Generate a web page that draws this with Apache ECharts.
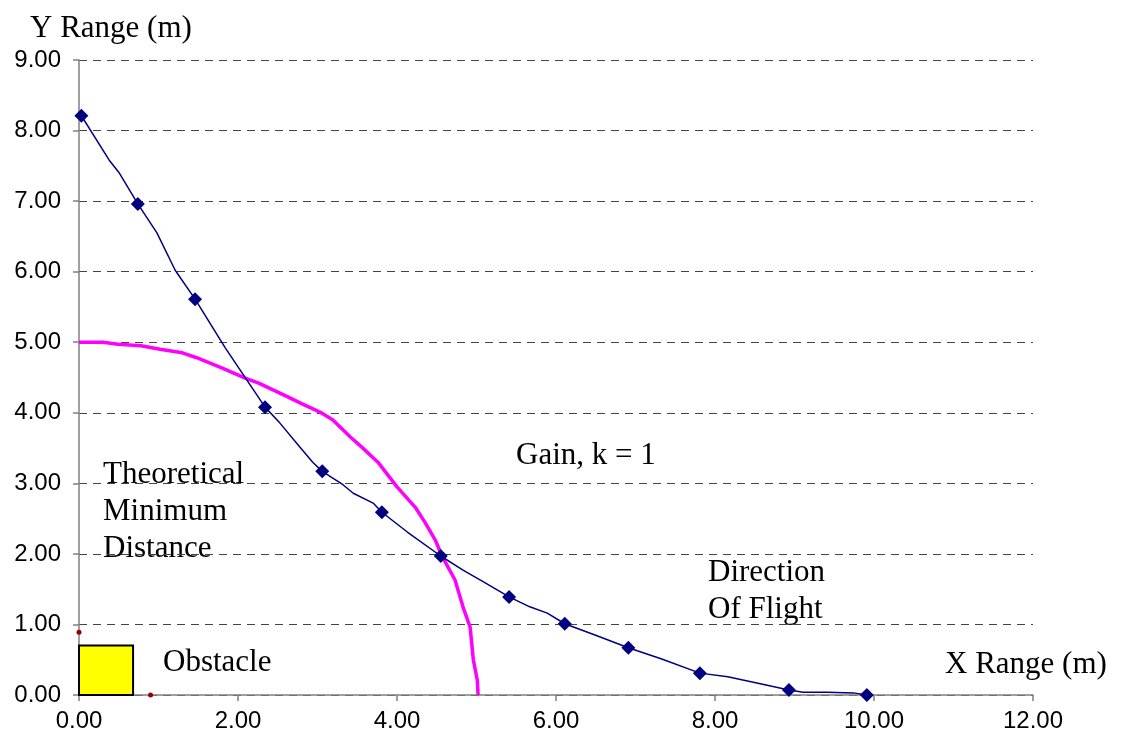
<!DOCTYPE html>
<html>
<head>
<meta charset="utf-8">
<script src="https://cdn.jsdelivr.net/npm/echarts@6/dist/echarts.min.js"></script>
<style>
html,body{margin:0;padding:0;background:#fff;}
#chart{width:1124px;height:746px;}
</style>
</head>
<body>
<div id="chart"></div>
<script>
// flight path (blue)
var pathX = [0.03,0.38,0.50,0.74,0.98,1.21,1.46,1.84,2.34,2.53,2.78,2.94,3.06,3.32,3.45,3.70,3.81,4.13,4.55,4.83,5.11,5.41,5.67,5.89,6.11,6.49,6.91,7.33,7.81,8.16,8.57,8.93,9.11,9.41,9.74,9.91];
var pathY = [8.21,7.58,7.41,6.96,6.55,6.02,5.61,4.92,4.08,3.85,3.51,3.30,3.17,2.98,2.86,2.72,2.59,2.31,1.97,1.77,1.59,1.39,1.25,1.16,1.01,0.85,0.67,0.51,0.31,0.26,0.16,0.07,0.04,0.04,0.03,0.00];
// diamond markers on the path
var markX = [0.03,0.74,1.46,2.34,3.06,3.81,4.55,5.41,6.11,6.91,7.81,8.93,9.91];
var markY = [8.21,6.96,5.61,4.08,3.17,2.59,1.97,1.39,1.01,0.67,0.31,0.07,0.00];
// theoretical minimum distance (pink)
var minX = [0,0.30,0.49,0.78,1.02,1.30,1.48,1.81,2.09,2.26,2.60,2.82,3.03,3.19,3.41,3.56,3.76,4.00,4.23,4.35,4.48,4.57,4.73,4.83,4.92,4.96,5.01,5.02];
var minY = [5.00,5.00,4.97,4.95,4.90,4.85,4.78,4.63,4.49,4.42,4.24,4.12,4.01,3.90,3.66,3.51,3.30,2.95,2.66,2.45,2.20,1.96,1.63,1.25,0.96,0.50,0.21,0.00];
// obstacle box [x0, y0, x1, y1] and its corner dots
var obstacle = [[0, 0, 0.68, 0.70]];
var dotX = [0, 0.9];
var dotY = [0.89, 0];

function pairs(xs, ys){
    var out = [];
    for(var i=0;i<xs.length;i++){ out.push([xs[i], ys[i]]); }
    return out;
}

var chart = echarts.init(document.getElementById('chart'));
var serif = '"Liberation Serif", "DejaVu Serif", serif';
var sans = '"Liberation Sans", Arial, sans-serif';

chart.setOption({
    animation: false,
    grid: {left: 79, right: 91, top: 60, bottom: 51},
    xAxis: {
        type: 'value', min: 0, max: 12, interval: 2,
        axisLine: {lineStyle: {color: '#808080', width: 1.5}},
        axisTick: {show: true, length: 6, lineStyle: {color: '#808080', width: 1.5}},
        axisLabel: {color: '#000', fontFamily: sans, fontSize: 24, margin: 14,
            formatter: function(v){ return v.toFixed(2); }},
        splitLine: {show: false}
    },
    yAxis: {
        type: 'value', min: 0, max: 9, interval: 1,
        axisLine: {show: true, lineStyle: {color: '#808080', width: 1.5}},
        axisTick: {show: true, length: 6, lineStyle: {color: '#808080', width: 1.5}},
        axisLabel: {color: '#000', fontFamily: sans, fontSize: 24, margin: 18,
            formatter: function(v){ return v.toFixed(2); }},
        splitLine: {show: true, lineStyle: {color: '#444', type: [8, 6], width: 1}}
    },
    series: [
        {
            type: 'custom',
            renderItem: function(params, api){
                var p0 = api.coord([api.value(0), api.value(1)]);
                var p1 = api.coord([api.value(2), api.value(3)]);
                return {
                    type: 'rect',
                    shape: {x: p0[0], y: p1[1], width: p1[0]-p0[0], height: p0[1]-p1[1]},
                    style: {fill: '#FFFF00', stroke: '#000', lineWidth: 2}
                };
            },
            data: obstacle,
            z: 1
        },
        {
            type: 'scatter',
            data: pairs(dotX, dotY),
            symbol: 'circle', symbolSize: 5,
            itemStyle: {color: '#990000', opacity: 1},
            z: 2
        },
        {
            type: 'line',
            data: pairs(minX, minY),
            showSymbol: false,
            lineStyle: {color: '#FF00FF', width: 3.5},
            z: 3
        },
        {
            type: 'line',
            data: pairs(pathX, pathY),
            showSymbol: false,
            lineStyle: {color: '#000080', width: 1.5},
            z: 4
        },
        {
            type: 'scatter',
            data: pairs(markX, markY),
            symbol: 'diamond', symbolSize: [14, 14],
            itemStyle: {color: '#000080', opacity: 1},
            z: 5
        }
    ],
    graphic: [
        {type: 'text', left: 30, top: 13, style: {text: 'Y Range (m)', font: '31px ' + serif, fill: '#000'}},
        {type: 'text', left: 945, top: 649, style: {text: 'X Range (m)', font: '31px ' + serif, fill: '#000'}},
        {type: 'text', left: 103, top: 456, style: {text: 'Theoretical\nMinimum\nDistance', font: '31px ' + serif, lineHeight: 37, fill: '#000'}},
        {type: 'text', left: 516, top: 440, style: {text: 'Gain, k = 1', font: '31px ' + serif, fill: '#000'}},
        {type: 'text', left: 708, top: 554, style: {text: 'Direction\nOf Flight', font: '31px ' + serif, lineHeight: 37, fill: '#000'}},
        {type: 'text', left: 163, top: 647, style: {text: 'Obstacle', font: '31px ' + serif, fill: '#000'}}
    ]
});
</script>
</body>
</html>
